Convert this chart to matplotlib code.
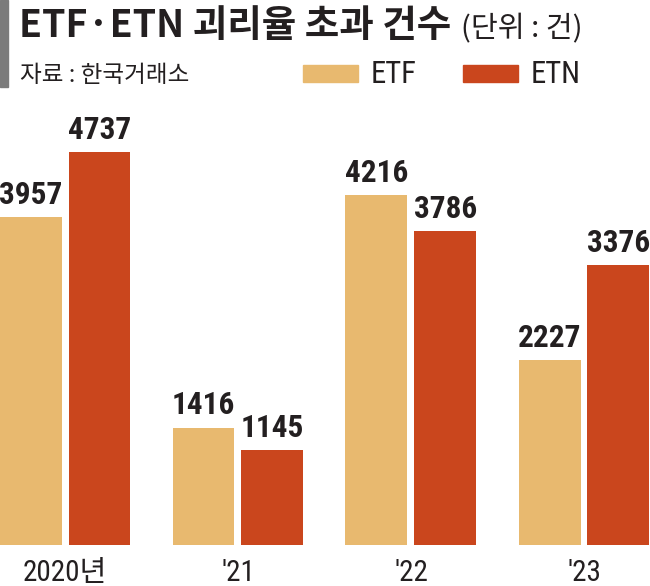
import matplotlib
matplotlib.use("Agg")
import matplotlib.pyplot as plt
from matplotlib import font_manager as fm
from matplotlib.patches import Rectangle
import numpy as np

categories = ["2020년", "'21", "'22", "'23"]
series_names = ["ETF", "ETN"]
etf_values = [3957, 1416, 4216, 2227]
etn_values = [4737, 1145, 3786, 3376]

ETF_COLOR = "#E8B96F"
ETN_COLOR = "#CA461D"
TEXT = "#231f20"

def has_font(name):
    try:
        fm.findfont(fm.FontProperties(family=name), fallback_to_default=False)
        return True
    except Exception:
        return False

narrow = next((n for n in ["Roboto Condensed", "Archivo Narrow", "Asap Condensed",
                           "Barlow Condensed", "Liberation Sans"] if has_font(n)), "DejaVu Sans")
KR = "Noto Sans CJK KR"
num_fam = [narrow, KR]
kr_fam = [KR, "DejaVu Sans"]

W, H = 650, 586
fig = plt.figure(figsize=(W / 100, H / 100), dpi=100)

def fx(px):
    return px / W

def fy(py):
    return 1 - py / H

bottom_px, top_px = 545, 100
ax = fig.add_axes([0, fy(bottom_px), 1, (bottom_px - top_px) / H])
scale = 393 / 4737  # px per unit
ax.set_ylim(0, (bottom_px - top_px) / scale)
spacing = 173.0
center0 = 65.0
ax.set_xlim(-center0 / spacing, (W - center0) / spacing)

x = np.arange(len(categories))
bw = 62 / spacing
off = 34.5 / spacing
b1 = ax.bar(x - off, etf_values, bw, color=ETF_COLOR, label=series_names[0])
b2 = ax.bar(x + off, etn_values, bw, color=ETN_COLOR, label=series_names[1])

for bars, vals in ((b1, etf_values), (b2, etn_values)):
    for r, v in zip(bars, vals):
        ax.annotate(f"{v}", (r.get_x() + r.get_width() / 2, v), xytext=(0, 9.5),
                    textcoords="offset points", ha="center", va="baseline",
                    fontsize=22.5, fontweight="bold", family=num_fam, color=TEXT)

ax.set_xticks(x)
ax.set_xticklabels(categories, family=num_fam, fontsize=21, color=TEXT)
ax.tick_params(axis="x", length=0, pad=10)
ax.set_yticks([])
for s in ax.spines.values():
    s.set_visible(False)
ax.patch.set_alpha(0)

# gray marker bar
fig.patches.append(Rectangle((0, fy(87)), fx(8), 87 / H, transform=fig.transFigure,
                             color="#7b7b7b", zorder=5))

# title
t = fig.text(fx(19), fy(37), "ETF·ETN 괴리율 초과 건수", family=kr_fam, fontsize=27,
             fontweight="bold", color=TEXT, va="baseline", ha="left")
fig.canvas.draw()
bb = t.get_window_extent(fig.canvas.get_renderer())
fig.text(fx(bb.x1 + 10), fy(37), "(단위 : 건)", family=kr_fam, fontsize=21,
         color=TEXT, va="baseline", ha="left")

# source
fig.text(fx(20), fy(82), "자료 : 한국거래소", family=kr_fam, fontsize=17,
         color=TEXT, va="baseline", ha="left")

# legend
for (sx, name, col, tx) in ((303, series_names[0], ETF_COLOR, 371),
                           (463, series_names[1], ETN_COLOR, 531)):
    fig.patches.append(Rectangle((fx(sx), fy(82)), fx(55), 17 / H,
                                 transform=fig.transFigure, color=col))
    fig.text(fx(tx), fy(83), name, family=num_fam, fontsize=22, color=TEXT,
             va="baseline", ha="left")

fig.savefig("out.png", dpi=100)
